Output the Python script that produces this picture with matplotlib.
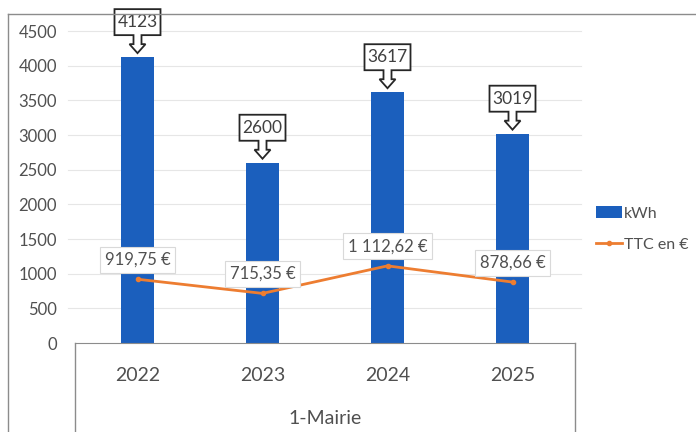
import matplotlib
matplotlib.use("Agg")
import matplotlib.pyplot as plt
from matplotlib.patches import Polygon
from matplotlib.lines import Line2D
from matplotlib.transforms import ScaledTranslation

years = ["2022", "2023", "2024", "2025"]
kwh = [4123, 2600, 3617, 3019]
ttc = [919.75, 715.35, 1112.62, 878.66]
group_label = "1-Mairie"
yticks = [0, 500, 1000, 1500, 2000, 2500, 3000, 3500, 4000, 4500]

BLUE = "#1b5fbd"
ORANGE = "#ed7d31"
TXT = "#505050"
EDGE = "#8c8c8c"

plt.rcParams["font.family"] = ["Lato", "DejaVu Sans"]


def fmt_eur(v):
    s = "{:,.2f}".format(v).replace(",", " ").replace(".", ",")
    return s + " €"


fig = plt.figure(figsize=(6.96, 4.32), dpi=100)
W, H = 696, 432
ax = fig.add_axes([75 / W, (H - 343) / H, 500 / W, (343 - 31) / H])

x = list(range(len(years)))
bars = ax.bar(x, kwh, width=0.27, color=BLUE, label="kWh", zorder=2)
line, = ax.plot(x, ttc, color=ORANGE, lw=2, marker="o", ms=3, label="TTC en €", zorder=3)

ax.set_xlim(-0.5, len(years) - 0.5)
ax.set_ylim(0, 4500)
ax.set_yticks(yticks)
ax.set_xticks(x)
ax.set_xticklabels(years)
for yv in yticks[1:]:
    ax.axhline(yv, xmin=-0.015, xmax=1.012, color="#e6e6e6", lw=0.8, zorder=0, clip_on=False)

for s in ["top", "right", "left"]:
    ax.spines[s].set_visible(False)
ax.spines["bottom"].set_color(EDGE)
ax.tick_params(axis="y", length=0, pad=13, labelsize=12, labelcolor=TXT)
ax.tick_params(axis="x", length=0, pad=17, labelsize=14, labelcolor=TXT)

# category box and group label
for xp in [75, 575]:
    fig.add_artist(Line2D([xp / W, xp / W], [(H - 343) / H, 0], color=EDGE, lw=1))
fig.text((75 + 575) / 2 / W, (H - 419) / H, group_label, ha="center", va="center",
         fontsize=14, color=TXT)

# outer chart border
fig.add_artist(Line2D([8 / W, 8 / W], [0, (H - 14) / H], color=EDGE, lw=1))
fig.add_artist(Line2D([8 / W, 1], [(H - 14) / H, (H - 14) / H], color=EDGE, lw=1))

# down-arrow callouts on bars (pixel offsets, 100 px per inch)
shape = [(-23, 22), (-4, 22), (-4, 13), (-8, 13), (0, 4), (8, 13), (4, 13), (4, 22),
         (23, 22), (23, 48), (-23, 48)]
for i, v in enumerate(kwh):
    tr = fig.dpi_scale_trans + ScaledTranslation(i, v, ax.transData)
    poly = Polygon([(px / 100, py / 100) for px, py in shape], closed=True,
                   facecolor="white", edgecolor="#262626", lw=1.3, transform=tr,
                   zorder=5, clip_on=False)
    ax.add_patch(poly)
    ax.text(0, 0.35, str(v), transform=tr, ha="center", va="center", fontsize=12.5,
            color="#404040", zorder=6, clip_on=False)

# labels for the cost line
for i, v in enumerate(ttc):
    ax.annotate(fmt_eur(v), (i, v), xytext=(0, 14), textcoords="offset points",
                ha="center", va="center", fontsize=12, color=TXT, zorder=6,
                bbox=dict(boxstyle="square,pad=0.3", fc="white", ec="#d9d9d9", lw=0.8))

fig.legend([bars, line], ["kWh", "TTC en €"], loc="center left",
           bbox_to_anchor=(590 / W, (H - 229) / H), frameon=False,
           fontsize=11.5, labelcolor=TXT, handlelength=1.6, handletextpad=0.15,
           labelspacing=1.05, borderaxespad=0)

fig.savefig("out.png", dpi=100, facecolor="white")
